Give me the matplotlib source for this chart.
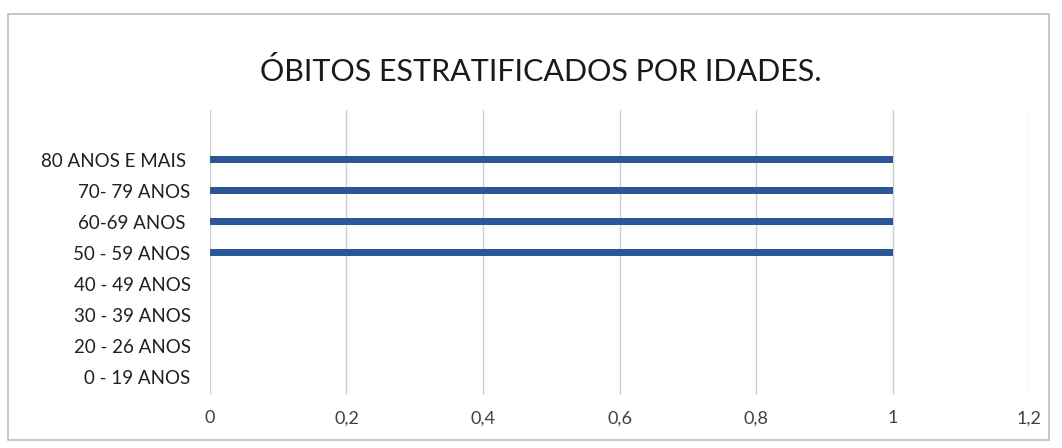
import matplotlib.pyplot as plt
from matplotlib.patches import Rectangle

plt.rcParams['font.family'] = ['Lato', 'DejaVu Sans']

faixas = ["0 - 19 ANOS", "20 - 26 ANOS", "30 - 39 ANOS", "40 - 49 ANOS",
          "50 - 59 ANOS", "60-69 ANOS ", "70- 79 ANOS", "80 ANOS E MAIS "]
obitos = [0, 0, 0, 0, 1, 1, 1, 1]
xticks = [0, 0.2, 0.4, 0.6, 0.8, 1, 1.2]
xlabels = ["0", "0,2", "0,4", "0,6", "0,8", "1", "1,2"]

fig = plt.figure(figsize=(10.62, 4.48), dpi=100)
ax = fig.add_axes([0.1977, 0.118, 0.7713, 0.6365])

ax.barh(range(len(faixas)), obitos, height=0.21, color="#2b5797")

ax.set_xlim(0, 1.2)
ax.set_ylim(-0.6, 8.6)
ax.set_xticks(xticks)
ax.set_xticklabels(xlabels, fontsize=13, color="#404040")
ax.set_yticks(range(len(faixas)))
ax.set_yticklabels(faixas, fontsize=13.5, color="#202020")
ax.tick_params(length=0)
ax.tick_params(axis="y", pad=14)
ax.tick_params(axis="x", pad=11)
ax.grid(axis="x", color="#d0d0d0", linewidth=1)
ax.set_axisbelow(True)
for s in ax.spines.values():
    s.set_visible(False)

fig.text(0.509, 0.84, "ÓBITOS ESTRATIFICADOS POR IDADES.", ha="center",
         va="center", fontsize=22, color="#1a1a1a")

fig.patches.append(Rectangle((0.008, 0.018), 0.98, 0.95, transform=fig.transFigure,
                             fill=False, edgecolor="#bdbdbd", linewidth=1.2))

fig.savefig("out.png", dpi=100)
